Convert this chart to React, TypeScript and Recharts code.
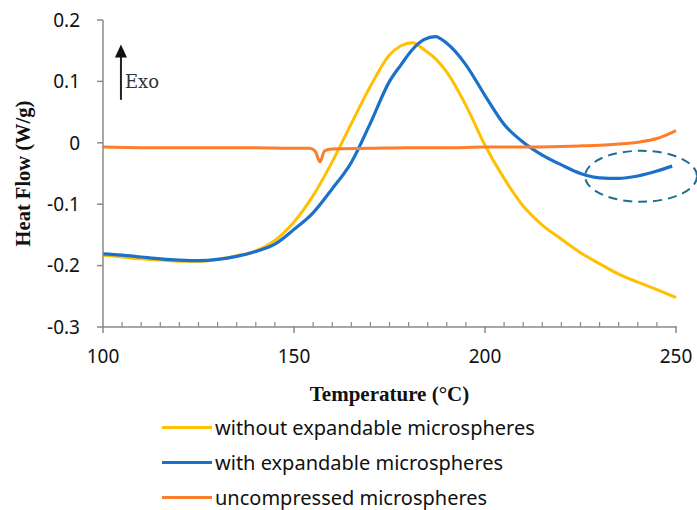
import { LineChart, Line, XAxis, YAxis, Legend, ReferenceArea, ReferenceLine } from "recharts";

// DSC curves
const temps = [100, 105, 110, 115, 120, 125, 130, 135, 140, 145, 150, 155, 160, 165, 170, 175, 178, 181, 184, 187, 190, 195, 200, 205, 210, 215, 220, 225, 230, 235, 240, 245, 250];
const withoutMicro = [-0.183, -0.186, -0.189, -0.191, -0.193, -0.193, -0.19, -0.184, -0.176, -0.159, -0.129, -0.086, -0.031, 0.031, 0.092, 0.143, 0.158, 0.163, 0.152, 0.137, 0.115, 0.061, -0.004, -0.058, -0.103, -0.134, -0.157, -0.179, -0.197, -0.214, -0.227, -0.239, -0.252];
const withMicro = [-0.181, -0.183, -0.186, -0.189, -0.191, -0.192, -0.19, -0.185, -0.177, -0.165, -0.141, -0.114, -0.075, -0.032, 0.032, 0.1, 0.127, 0.152, 0.168, 0.173, 0.162, 0.127, 0.077, 0.03, 0.001, -0.02, -0.036, -0.05, -0.057, -0.058, -0.054, -0.046, -0.038];

const uncompTemps = [100, 110, 120, 130, 140, 150, 154, 155.5, 156.8, 158, 160, 170, 180, 190, 200, 210, 220, 225, 230, 235, 240, 245, 250];
const uncompressed = [-0.007, -0.008, -0.008, -0.008, -0.008, -0.009, -0.009, -0.013, -0.031, -0.013, -0.01, -0.009, -0.008, -0.008, -0.007, -0.007, -0.006, -0.005, -0.004, -0.002, 0.001, 0.007, 0.02];

const xMajor = [100, 150, 200, 250];
const xTicks = [100, 105, 110, 115, 120, 125, 130, 135, 140, 145, 150, 155, 160, 165, 170, 175, 180, 185, 190, 195, 200, 205, 210, 215, 220, 225, 230, 235, 240, 245, 250];
const yTicks = [-0.3, -0.2, -0.1, 0, 0.1, 0.2];

const seriesNames = ["without expandable microspheres", "with expandable microspheres", "uncompressed microspheres"];
const seriesColors = ["#ffc000", "#1b71c9", "#fc7d2a"];

const lineA = temps.map((t, i) => ({ t, v: withoutMicro[i] }));
// the blue trace stops just short of 250
const lineB = temps.map((t, i) => ({ t: t === 250 ? 249 : t, v: withMicro[i] }));
const lineC = uncompTemps.map((t, i) => ({ t, v: uncompressed[i] }));

const axisGray = "#8a8a8a";
const sans = "'Noto Sans', sans-serif";
const serif = "'Liberation Serif', serif";

function XTick(props: any) {
    const { x, y, payload } = props;
    const major = xMajor.includes(payload.value);
    return (
        <g>
            {major ? (
                <line x1={x} x2={x} y1={y - 1} y2={y + 6} stroke={axisGray} strokeWidth={1.5} />
            ) : (
                <line x1={x} x2={x} y1={y - 5} y2={y} stroke={axisGray} strokeWidth={1.2} />
            )}
            {major && (
                <text x={x} y={y + 36} textAnchor="middle" fontSize={19} fill="#111" fontFamily={sans}>
                    {payload.value}
                </text>
            )}
        </g>
    );
}

function LegendBox() {
    return (
        <div style={{ fontFamily: sans, fontSize: 20, color: "#111" }}>
            {seriesNames.map((name, i) => (
                <div key={name} style={{ display: "flex", alignItems: "center", height: 35 }}>
                    <div style={{ width: 50, height: 3, background: seriesColors[i], marginRight: 3 }} />
                    <span style={{ lineHeight: "20px" }}>{name}</span>
                </div>
            ))}
        </div>
    );
}

export default function App() {
    return (
        <div style={{ position: "absolute", left: 0, top: 0, width: 697, height: 510, background: "#fff" }}>
            <LineChart width={697} height={510} margin={{ top: 20, right: 21, left: 0, bottom: 153 }}>
                <XAxis
                    dataKey="t"
                    type="number"
                    domain={[100, 250]}
                    ticks={xTicks}
                    interval={0}
                    allowDuplicatedCategory={false}
                    height={30}
                    tickSize={0}
                    tickMargin={0}
                    tickLine={false}
                    tick={<XTick />}
                    axisLine={{ stroke: axisGray, strokeWidth: 1.5 }}
                    label={{
                        content: (p: any) => (
                            <text
                                x={p.viewBox.x + p.viewBox.width / 2}
                                y={p.viewBox.y + 74}
                                textAnchor="middle"
                                fontSize={21}
                                fontWeight="bold"
                                fontFamily={serif}
                                fill="#111"
                            >
                                Temperature (°C)
                            </text>
                        ),
                    }}
                />
                <YAxis
                    type="number"
                    domain={[-0.3, 0.2]}
                    ticks={yTicks}
                    width={103}
                    tickSize={6}
                    tickMargin={17}
                    tickFormatter={(v: number) => String(Math.round(v * 10) / 10)}
                    tick={{ fontSize: 19, fill: "#111", fontFamily: sans }}
                    tickLine={{ stroke: axisGray, strokeWidth: 1.5 }}
                    axisLine={{ stroke: axisGray, strokeWidth: 1.5 }}
                    label={{
                        content: (p: any) => {
                            const cx = p.viewBox.x + 23;
                            const cy = p.viewBox.y + p.viewBox.height / 2;
                            return (
                                <text
                                    x={cx}
                                    y={cy}
                                    transform={`rotate(-90 ${cx} ${cy})`}
                                    textAnchor="middle"
                                    dominantBaseline="central"
                                    fontSize={20.5}
                                    fontWeight="bold"
                                    fontFamily={serif}
                                    fill="#111"
                                >
                                    Heat Flow (W/g)
                                </text>
                            );
                        },
                    }}
                />
                <Line data={lineA} dataKey="v" stroke={seriesColors[0]} strokeWidth={3} dot={false} type="monotone" isAnimationActive={false} />
                <Line data={lineB} dataKey="v" stroke={seriesColors[1]} strokeWidth={3.2} dot={false} type="monotone" isAnimationActive={false} />
                <Line data={lineC} dataKey="v" stroke={seriesColors[2]} strokeWidth={3} dot={false} type="monotone" isAnimationActive={false} />
                <ReferenceArea
                    x1={226.2}
                    x2={255.5}
                    y1={-0.096}
                    y2={-0.013}
                    ifOverflow="visible"
                    shape={(p: any) => (
                        <ellipse
                            cx={p.x + p.width / 2}
                            cy={p.y + p.height / 2}
                            rx={p.width / 2}
                            ry={p.height / 2}
                            fill="none"
                            stroke="#1f6d94"
                            strokeWidth={2}
                            strokeDasharray="9 6"
                        />
                    )}
                />
                <ReferenceLine
                    segment={[{ x: 104.7, y: 0.07 }, { x: 104.7, y: 0.16 }]}
                    ifOverflow="visible"
                    shape={(p: any) => (
                        <g>
                            <line x1={p.x1} y1={p.y1} x2={p.x2} y2={p.y2 + 12} stroke="#222" strokeWidth={2} />
                            <polygon points={`${p.x2},${p.y2} ${p.x2 - 6},${p.y2 + 13} ${p.x2 + 6},${p.y2 + 13}`} fill="#111" />
                            <text x={p.x2 + 4} y={p.y1 - 12} fontSize={18} fontFamily="'DejaVu Serif', serif" fill="#333">
                                Exo
                            </text>
                        </g>
                    )}
                />
                <Legend
                    layout="vertical"
                    align="center"
                    verticalAlign="middle"
                    wrapperStyle={{ top: 410, left: 162, width: 430 }}
                    content={() => <LegendBox />}
                />
            </LineChart>
        </div>
    );
}
